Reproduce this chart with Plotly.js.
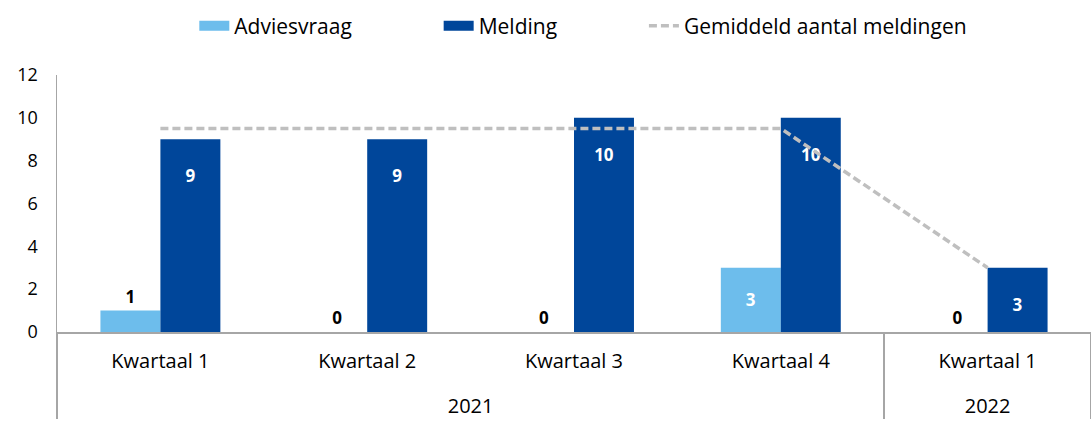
<!DOCTYPE html>
<html>
<head>
<meta charset="utf-8">
<script src="https://cdn.plot.ly/plotly-3.0.1.min.js"></script>
<style>html,body{margin:0;padding:0;background:#fff;}#chart{width:1091px;height:423px;}</style>
</head>
<body>
<div id="chart"></div>
<script>
const years = ["2021", "2021", "2021", "2021", "2022"];
const quarters = ["Kwartaal 1", "Kwartaal 2", "Kwartaal 3", "Kwartaal 4", "Kwartaal 1"];
const adviesvraag = [1, 0, 0, 3, 0];
const melding = [9, 9, 10, 10, 3];
const gemiddeld = [9.5, 9.5, 9.5, 9.5, 3];
const seriesNames = ["Adviesvraag", "Melding", "Gemiddeld aantal meldingen"];

const FONT = "Open Sans, Noto Sans, sans-serif";
const COL_ADV = "#6DBDEC", COL_MEL = "#00469A", COL_GEM = "#BFBFBF";
const PAD = "\u00A0".repeat(15);
// quarter labels get an empty second line so the year row sits lower, like the reference
const x = [years, quarters.map(q => q + "<br> ")];

const traces = [
  {
    type: "bar", name: seriesNames[0], x: x, y: adviesvraag, showlegend: false,
    marker: {color: COL_ADV},
    text: adviesvraag.map(String),
    textposition: adviesvraag.map(v => v >= 3 ? "inside" : "outside"),
    insidetextanchor: "middle",
    textfont: {family: FONT, size: 17, color: adviesvraag.map(v => v >= 3 ? "#ffffff" : "#000000"), weight: 700},
    cliponaxis: false,
    hoverinfo: "skip"
  },
  {
    type: "bar", name: seriesNames[1], x: x, y: melding, showlegend: false,
    marker: {color: COL_MEL},
    text: melding.map(v => " <br>" + v),
    textposition: "inside",
    insidetextanchor: "end",
    textangle: 0,
    textfont: {family: FONT, size: 17, color: "#ffffff", weight: 700},
    hoverinfo: "skip"
  },
  {
    type: "scatter", mode: "lines", name: seriesNames[2], x: x, y: gemiddeld,
    showlegend: false,
    line: {color: COL_GEM, width: 3.5, dash: "8px,4px"},
    hoverinfo: "skip"
  },
  // legend entries (wide swatches like the reference)
  {type: "scatter", mode: "lines", name: seriesNames[0] + PAD, x: [[years[0]], [x[1][0]]], y: [null],
   line: {color: COL_ADV, width: 13}, hoverinfo: "skip"},
  {type: "scatter", mode: "lines", name: seriesNames[1] + PAD, x: [[years[0]], [x[1][0]]], y: [null],
   line: {color: COL_MEL, width: 13}, hoverinfo: "skip"},
  {type: "scatter", mode: "lines", name: seriesNames[2], x: [[years[0]], [x[1][0]]], y: [null],
   line: {color: COL_GEM, width: 3.5, dash: "8px,4px"}, hoverinfo: "skip"}
];

const layout = {
  width: 1091, height: 423,
  margin: {l: 57, r: 0, t: 75, b: 91},
  paper_bgcolor: "#ffffff", plot_bgcolor: "#ffffff",
  font: {family: FONT, size: 20, color: "#000000"},
  barmode: "group",
  bargap: 0.42,
  bargroupgap: 0,
  showlegend: true,
  legend: {
    orientation: "h", x: 0.509, xanchor: "center", y: 1.27, yanchor: "top",
    font: {family: FONT, size: 21, color: "#000000"},
    traceorder: "normal", itemwidth: 30
  },
  xaxis: {
    type: "multicategory",
    showline: true, linecolor: "#A6A6A6", linewidth: 1.5,
    showdividers: true, dividercolor: "#A6A6A6", dividerwidth: 1.5,
    ticks: "", tickfont: {family: FONT, size: 20, color: "#000000"},
    ticklabelstandoff: 10,
    showgrid: false, zeroline: false
  },
  yaxis: {
    range: [0, 12], dtick: 2,
    showline: true, linecolor: "#A6A6A6", linewidth: 1.5,
    showgrid: false, zeroline: false, ticks: "",
    tickfont: {family: FONT, size: 18, color: "#000000"},
    ticklabelstandoff: 14
  }
};

Plotly.newPlot("chart", traces, layout, {displayModeBar: false, staticPlot: true});
</script>
</body>
</html>
